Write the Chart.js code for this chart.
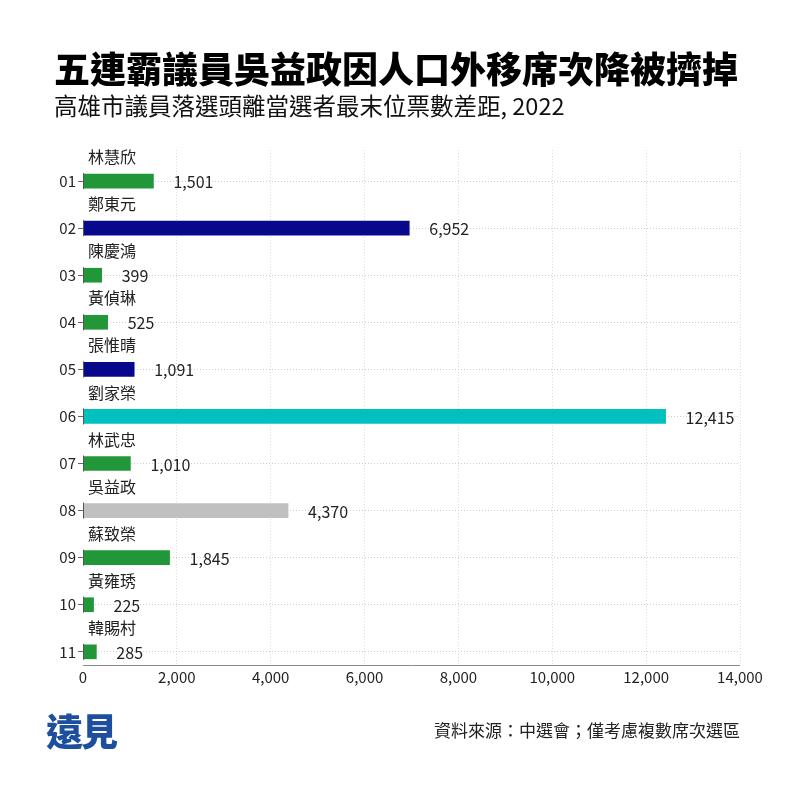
<!DOCTYPE html>
<html>
<head>
<meta charset="utf-8">
<script src="https://cdn.jsdelivr.net/npm/chart.js@4.4.1/dist/chart.umd.min.js"></script>
<style>
  html, body { margin: 0; padding: 0; background: #fff; }
  #wrap { position: relative; width: 792px; height: 792px; overflow: hidden; background: #fff;
          font-family: 'Noto Sans CJK TC', 'Noto Sans CJK SC', sans-serif; }
  #chart { position: absolute; left: 0; top: 0; }
  .t { position: absolute; white-space: nowrap; line-height: 1; }
  #title { left: 54px; top: 49px; font-size: 36px; font-weight: 900; color: #000; }
  #subtitle { left: 54px; top: 94px; font-size: 23.5px; font-weight: 400; color: #111; }
  #source { right: 52px; top: 721px; font-size: 17px; color: #222; }
  #logo { left: 46px; top: 712px; font-size: 37px; font-weight: 900; color: #1d4f9e; letter-spacing: -2px; }
</style>
</head>
<body>
<div id="wrap">
  <canvas id="chart" width="792" height="792"></canvas>
  <div class="t" id="title">五連霸議員吳益政因人口外移席次降被擠掉</div>
  <div class="t" id="subtitle">高雄市議員落選頭離當選者最末位票數差距, 2022</div>
  <div class="t" id="logo">遠見</div>
  <div class="t" id="source">資料來源：中選會；僅考慮複數席次選區</div>
</div>
<script>
// ---- data ----
const districtCodes = ['01','02','03','04','05','06','07','08','09','10','11'];
const candidates = ['林慧欣','鄭東元','陳慶鴻','黃偵琳','張惟晴','劉家榮','林武忠','吳益政','蘇致榮','黃雍琇','韓賜村'];
const voteGaps = [1501, 6952, 399, 525, 1091, 12415, 1010, 4370, 1845, 225, 285];
const barGroups = ['g','n','g','g','n','c','g','h','g','g','g'];
const xTickValues = [0, 2000, 4000, 6000, 8000, 10000, 12000, 14000];

// ---- styles ----
const groupColors = { g: '#22973a', n: '#08088c', c: '#00c0c0', h: '#c0c0c0' };
const FONT = "'Noto Sans CJK TC', 'Noto Sans CJK SC', sans-serif";
Chart.defaults.font.family = FONT;
Chart.defaults.color = '#222';

const points = voteGaps.map((v, i) => ({ x: v, y: i + 1 }));

const labelPlugin = {
  id: 'labels',
  afterDatasetsDraw(chart) {
    const ctx = chart.ctx;
    const area = chart.chartArea;
    const meta = chart.getDatasetMeta(0);
    ctx.save();
    ctx.setLineDash([]);
    // x axis line
    ctx.strokeStyle = '#8a8a8a';
    ctx.lineWidth = 1;
    ctx.beginPath();
    ctx.moveTo(area.left, Math.round(area.bottom) + 0.5);
    ctx.lineTo(area.right, Math.round(area.bottom) + 0.5);
    ctx.stroke();
    // short axis segments at each row
    ctx.strokeStyle = '#555';
    meta.data.forEach((el) => {
      ctx.beginPath();
      ctx.moveTo(area.left + 0.5, el.y - 8);
      ctx.lineTo(area.left + 0.5, el.y + 8);
      ctx.stroke();
    });
    ctx.fillStyle = '#222';
    ctx.textBaseline = 'middle';
    meta.data.forEach((el, i) => {
      ctx.font = '16px ' + FONT;
      ctx.textAlign = 'left';
      ctx.fillText(candidates[i], area.left + 5, el.y - 24);
      ctx.fillText(voteGaps[i].toLocaleString('en-US'), el.x + 20, el.y + 1);
    });
    ctx.restore();
  }
};

new Chart(document.getElementById('chart'), {
  type: 'bar',
  data: {
    datasets: [{
      data: points,
      backgroundColor: barGroups.map(g => groupColors[g]),
      barThickness: 14,
      borderWidth: 0
    }]
  },
  options: {
    indexAxis: 'y',
    responsive: false,
    animation: false,
    layout: { padding: { top: 150, left: 55, right: 52, bottom: 97 } },
    plugins: { legend: { display: false }, tooltip: { enabled: false } },
    scales: {
      x: {
        type: 'linear',
        min: 0,
        max: 14000,
        afterBuildTicks(scale) { scale.ticks = xTickValues.map(v => ({ value: v })); },
        afterFit(scale) { scale.height = 30; },
        ticks: {
          font: { size: 15 },
          color: '#222',
          padding: 3,
          callback: v => Number(v).toLocaleString('en-US')
        },
        grid: {
          drawTicks: false,
          color: ctx => ctx.index === 0 ? 'rgba(0,0,0,0)' : '#dcdcdc'
        },
        border: { display: false, dash: [1, 2] }
      },
      y: {
        type: 'linear',
        reverse: true,
        offset: false,
        min: 0.34,
        max: 11.28,
        afterBuildTicks(scale) {
          scale.ticks = districtCodes.map((c, i) => ({ value: i + 1 }));
        },
        afterFit(scale) { scale.width = 28; },
        ticks: {
          font: { size: 15 },
          color: '#222',
          padding: 2,
          callback: v => districtCodes[v - 1] || ''
        },
        grid: {
          offset: false,
          color: '#cccccc',
          drawTicks: true,
          tickLength: 5,
          tickColor: '#666',
          tickBorderDash: []
        },
        border: { display: false, dash: [1, 2] }
      }
    }
  },
  plugins: [labelPlugin]
});
</script>
</body>
</html>
